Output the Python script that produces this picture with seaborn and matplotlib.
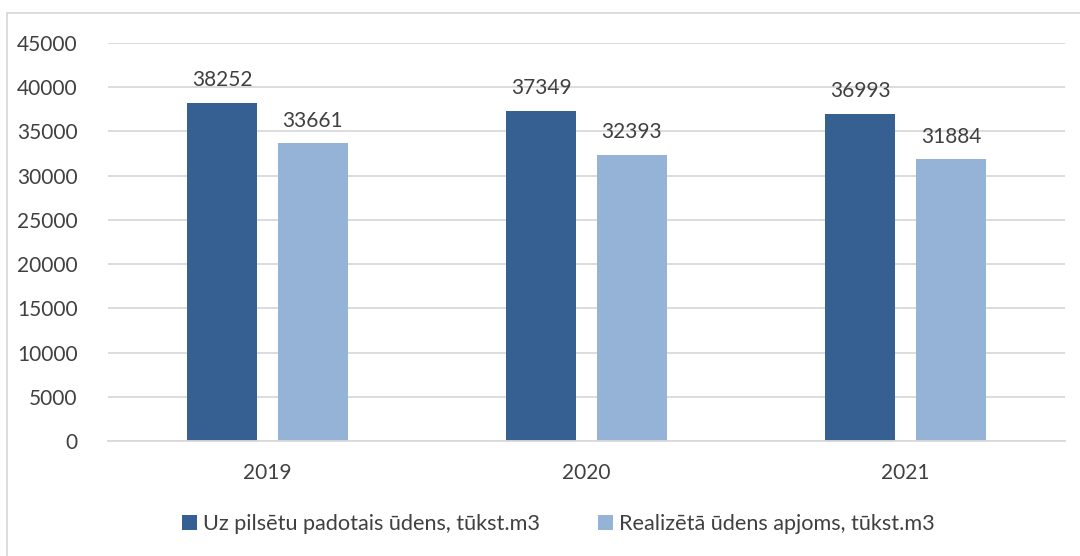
import matplotlib
matplotlib.use("Agg")
import matplotlib.pyplot as plt
from matplotlib.lines import Line2D
import pandas as pd
import seaborn as sns

years = ["2019", "2020", "2021"]
supplied = [38252, 37349, 36993]
sold = [33661, 32393, 31884]
series_names = ["Uz pilsētu padotais ūdens, tūkst.m3", "Realizētā ūdens apjoms, tūkst.m3"]
y_ticks = [0, 5000, 10000, 15000, 20000, 25000, 30000, 35000, 40000, 45000]

df = pd.DataFrame({
    "year": years * 2,
    "value": supplied + sold,
    "series": [series_names[0]] * len(years) + [series_names[1]] * len(years),
})

sns.set_style("white")
plt.rcParams["font.family"] = ["Lato", "DejaVu Sans"]
text_color = "#404040"
colors = ["#366092", "#95B3D7"]
fs = 15

fig = plt.figure(figsize=(10.8, 5.56), dpi=100)
ax = fig.add_axes([108 / 1080, 1 - 441 / 556, (1065 - 108) / 1080, (441 - 43) / 556])

sns.barplot(data=df, x="year", y="value", hue="series", hue_order=series_names,
            palette=colors, saturation=1, width=0.57, gap=0.22, ax=ax, legend=True,
            edgecolor="none", linewidth=0)

for container in ax.containers:
    ax.bar_label(container, fmt="%d", padding=9, fontsize=fs, color=text_color)

ax.set_ylim(0, 45000)
ax.set_yticks(y_ticks)
ax.set_xlim(-0.5, 2.5)
ax.yaxis.grid(True, color="#d9d9d9", linewidth=1.3)
ax.set_axisbelow(True)
for side in ["top", "right", "left"]:
    ax.spines[side].set_visible(False)
ax.spines["bottom"].set_color("#d9d9d9")
ax.spines["bottom"].set_linewidth(1.3)
ax.tick_params(axis="both", length=0, labelsize=fs, labelcolor=text_color)
ax.tick_params(axis="y", pad=22)
ax.tick_params(axis="x", pad=16)
ax.set_xlabel("")
ax.set_ylabel("")

handles, labels = ax.get_legend_handles_labels()
ax.get_legend().remove()
fig.legend(handles, labels, loc="center", bbox_to_anchor=(0.517, 1 - 524 / 556),
           ncol=2, frameon=False, fontsize=15.6, labelcolor=text_color,
           handlelength=0.7, handleheight=0.7, handletextpad=0.25, columnspacing=2.7)

# chart area frame
frame_color = "#d9d9d9"
fig.add_artist(Line2D([7 / 1080, 1.0], [1 - 13 / 556, 1 - 13 / 556],
                      transform=fig.transFigure, color=frame_color, linewidth=1.3))
fig.add_artist(Line2D([7 / 1080, 7 / 1080], [0.0, 1 - 13 / 556],
                      transform=fig.transFigure, color=frame_color, linewidth=1.3))

fig.savefig("out.png", dpi=100)
